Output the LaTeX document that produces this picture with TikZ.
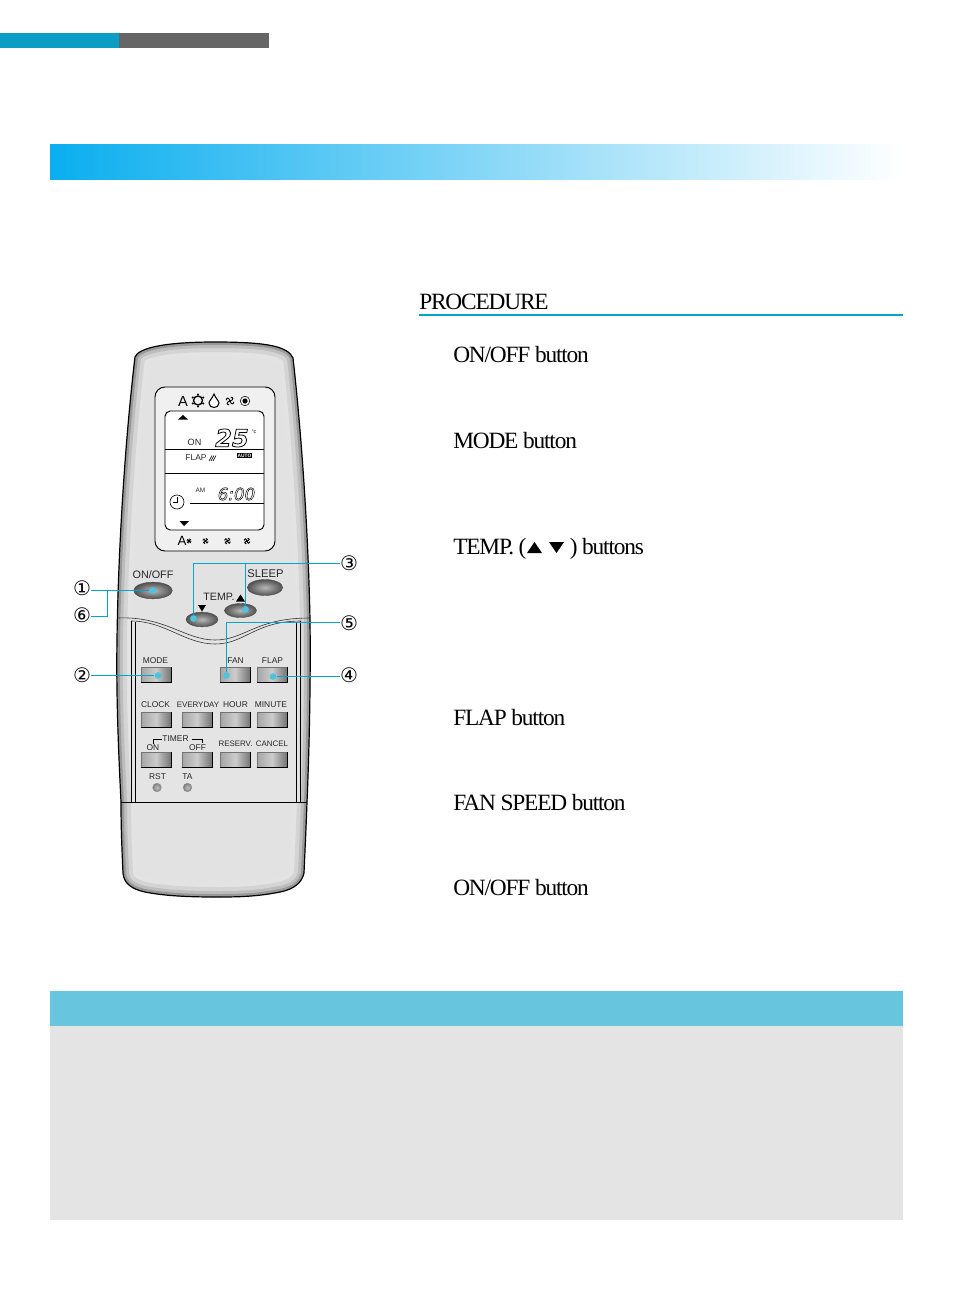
\documentclass[tikz,border=0pt]{standalone}
\usepackage{fontspec}
\setmainfont{Liberation Serif}[LetterSpace=-5]
\setsansfont{Liberation Sans}
\newfontfamily\symf{DejaVu Sans}
\newfontfamily\lcdf{DejaVu Sans}
\usetikzlibrary{shapes.geometric}
\definecolor{teal1}{HTML}{0A9EC4}
\definecolor{lead}{HTML}{00A5CC}
\definecolor{dotc}{HTML}{4CC4E0}
\definecolor{barblue}{HTML}{0AAEEF}
\definecolor{hdr}{HTML}{68C5DE}
\definecolor{panel}{HTML}{E4E4E4}
\definecolor{bodyc}{HTML}{E2E2E2}
\newcommand{\outl}[2]{\special{pdf:code 1 Tr #1 w}#2\special{pdf:code 0 Tr 0.4 w}}
\newcommand{\bodypath}{(135,357) .. controls (138,349) and (160,342) .. (215,342) .. controls (270,342) and (288,347) .. (293,358) .. controls (300,420) and (308,520) .. (310,620) .. controls (311,700) and (308,780) .. (307,802) .. controls (306,830) and (305,850) .. (304,873) .. controls (302,882) and (295,889) .. (280,892) .. controls (255,897) and (235,897) .. (215,897) .. controls (190,897) and (165,896) .. (145,892) .. controls (132,889) and (124,884) .. (123,873) .. controls (122,850) and (121,830) .. (121,802) .. controls (119,760) and (116,700) .. (117,640) .. controls (118,560) and (124,450) .. (135,357) -- cycle}
\newcommand{\rb}[3]{\node[rbtn] (#1) at (#2,#3) {};\draw[line width=.85pt] (#1.south west)--(#1.south east)--(#1.north east);}
\newcommand{\fanicon}[3]{\begin{scope}[shift={(#1,#2)},scale=#3,line width=.7pt,line cap=round]
\draw (-3.5,-1) .. controls (-3.5,-3.5) and (-1,-3.5) .. (0,0);\draw (1,-3.5) .. controls (3.5,-3.5) and (3.5,-1) .. (0,0);\draw (3.5,1) .. controls (3.5,3.5) and (1,3.5) .. (0,0);\draw (-1,3.5) .. controls (-3.5,3.5) and (-3.5,1) .. (0,0);
\end{scope}}
\tikzset{
 ptitle/.style={anchor=base west,inner sep=0,font=\fontsize{17.5}{20}\selectfont},
 lab/.style={inner sep=0,font=\sffamily\fontsize{6.3}{7}\selectfont,text=black!85},
 labs/.style={inner sep=0,font=\sffamily\fontsize{5.95}{7}\selectfont,text=black!85},
 blab/.style={inner sep=0,font=\sffamily\fontsize{8.4}{9}\selectfont,text=black!85},
 rbtn/.style={draw=black!55,line width=.4pt,minimum width=22.5pt,minimum height=11pt,inner sep=0,left color=black!35,right color=black!55,middle color=black!20},
 ebtn/.style={ellipse,draw=black!70,line width=.3pt,inner sep=0,inner color=black!28,outer color=black!68},
 hole/.style={circle,draw=black!45,line width=.3pt,minimum size=6.5pt,inner sep=0,inner color=black!25,outer color=black!50},
 dot/.style={circle,fill=dotc,minimum size=5pt,inner sep=0},
 num/.style={inner sep=0,font=\symf\fontsize{15}{16}\selectfont},
 lead/.style={draw=lead,line width=.6pt},
 lcdline/.style={line width=.55pt},
}
\begin{document}
\begin{tikzpicture}[x=.75pt,y=-.75pt]
\useasboundingbox (0,0) rectangle (954,1305);
% page furniture
\fill[teal1] (0,33) rectangle (119,48);
\fill[black!60] (119,33) rectangle (269,48);
\shade[left color=barblue,right color=white] (50,144.4) rectangle (903,180);
\fill[hdr] (50,991) rectangle (903,1026);
\fill[panel] (50,1026) rectangle (903,1220);
% procedure
\node[ptitle] (proc) at (419,309.7) {PROCEDURE};
\draw[lead,line width=1.1pt] (419,315) -- (903,315);
\node[ptitle] (t1) at (453,362.7) {ON/OFF button};
\node[ptitle] (t2) at (453,448.7) {MODE button};
\node[ptitle] (t3) at (453,554.7) {TEMP. (};
\fill (527,553) -- (534.5,542) -- (542,553) -- cycle;
\fill (549,542) -- (564,542) -- (556.5,553) -- cycle;
\node[ptitle] (t3b) at (569.5,554.7) {) buttons};
\node[ptitle] (t4) at (453,725.7) {FLAP button};
\node[ptitle] (t5) at (453,810.7) {FAN SPEED button};
\node[ptitle] (t6) at (453,895.7) {ON/OFF button};
% remote body
\fill[bodyc] \bodypath;
\begin{scope}
\clip \bodypath;
\draw[black!11,line width=22pt] \bodypath;
\draw[black!17,line width=15pt] \bodypath;
\draw[black!26,line width=9pt] \bodypath;
\draw[black!40,line width=4.5pt] \bodypath;
\fill[panel] (131,619) .. controls (165,622) and (185,640) .. (215,641) .. controls (245,642) and (255,622) .. (296,621) -- (300,802) -- (131,802) -- cycle;
\end{scope}
\draw[line width=.9pt] \bodypath;
% wave and panel
\draw[line width=.45pt,black!80] (118,618) .. controls (165,616) and (185,640) .. (215,640) .. controls (245,640) and (255,618) .. (310,618);
\draw[line width=.45pt,black!80] (131,621) .. controls (165,621) and (185,644) .. (215,644) .. controls (245,644) and (255,621) .. (301,621);
\draw[line width=.5pt] (131.5,621) -- (131.5,802) (135,622) -- (135,802) (296,622) -- (296,802) (300.5,621) -- (300.5,802);
\draw[line width=.7pt] (121,802) -- (307,802);
% LCD
\draw[line width=.7pt,fill=white!50!bodyc,rounded corners=7.5pt] (155,387) rectangle (275,551);
\draw[line width=.7pt,fill=white,rounded corners=4pt] (165,411) rectangle (264,530);
\draw[lcdline] (165,449.5) -- (264,449.5) (165,473.5) -- (264,473.5) (190,503) -- (264,503);
\node[inner sep=0,font=\sffamily\fontsize{11}{12}\selectfont] (a1) at (183,401) {A};
\begin{scope}[shift={(198,400.5)}]
\draw[line width=1pt] (0,0) circle[radius=4.5];
\foreach \a in {30,90,...,330}{\fill (\a:6) circle[radius=1.1];}
\end{scope}
\draw[line width=.8pt,fill=white] (214,394) .. controls (216,399) and (219,401) .. (219,403) .. controls (219,409) and (209,409) .. (209,403) .. controls (209,401) and (212,399) .. (214,394) -- cycle;
\fanicon{230}{401}{1.05}
\draw[line width=.4pt] (245,401) circle[radius=4.8];
\fill (245,401) circle[radius=2.6];
\fill (178,419.5) -- (188,419.5) -- (183,415) -- cycle;
\fill (179.5,521) -- (189,521) -- (184,526) -- cycle;
\node[inner sep=0,font=\sffamily\fontsize{6.8}{7}\selectfont,text=black!85] (on) at (194.5,442.5) {ON};
\node[inner sep=0,font=\lcdf\bfseries\itshape\fontsize{18}{22}\selectfont] (t25) at (232,438) {\outl{.6}{25}};
\node[inner sep=0,font=\sffamily\fontsize{4}{4}\selectfont] (deg) at (254,431.5) {°c};
\node[lab] (flap0) at (196,457.5) {FLAP};
\draw[line width=.45pt] (209,461) -- (212,455.5) (211,461) -- (214,455.5) (213,461) -- (216,455.5);
\node[fill=black,text=white,inner sep=.4pt,font=\sffamily\bfseries\fontsize{3.6}{4}\selectfont] (auto) at (244.5,455.5) {AUTO};
\node[inner sep=0,font=\sffamily\fontsize{4.8}{5}\selectfont,text=black!85] (am) at (200.5,490.5) {AM};
\node[inner sep=0,font=\lcdf\itshape\fontsize{12.5}{14}\selectfont] (t600) at (236.5,494) {\outl{.35}{6:00}};
\draw[line width=.5pt] (177,502) circle[radius=7];
\draw[line width=.35pt] (177,497) -- (177,502) -- (173,502);
\node[inner sep=0,font=\sffamily\fontsize{10}{11}\selectfont] (a2) at (182,541) {A};
\fanicon{189}{541}{.55}
\fanicon{205.5}{541}{.7}
\fanicon{227.5}{541}{.8}
\fanicon{247}{541}{.8}
% upper buttons
\node[blab,font=\sffamily\fontsize{8.1}{9}\selectfont] (lonoff) at (153,575) {ON/OFF};
\node[ebtn,minimum width=29pt,minimum height=12.5pt] (onoff) at (153,590.5) {};
\node[blab] (lsleep) at (265.5,573.5) {SLEEP};
\node[ebtn,minimum width=26.5pt,minimum height=12pt] (sleep) at (265,587.5) {};
\node[blab,font=\sffamily\fontsize{8}{9}\selectfont] (ltemp) at (219,597) {TEMP.};
\fill (236,601.5) -- (240.5,594.5) -- (245,601.5) -- cycle;
\fill (198,605) -- (206,605) -- (202,611.5) -- cycle;
\node[ebtn,minimum width=24pt,minimum height=10.5pt] (tup) at (240.5,610.5) {};
\node[ebtn,minimum width=24pt,minimum height=11pt] (tdown) at (202,619.5) {};
% rectangular buttons
\node[lab] at (155.5,660.5) {MODE};
\node[lab] at (235.5,660.5) {FAN};
\node[lab] at (272.5,660.5) {FLAP};
\rb{mode}{156}{674.5}
\rb{fan}{235}{674.5}
\rb{flap}{272}{674.5}
\node[lab] at (155.5,705) {CLOCK};
\node[labs] at (198,705) {EVERYDAY};
\node[lab] at (235.5,705) {HOUR};
\node[lab] at (271,705) {MINUTE};
\rb{clock}{156}{720}
\rb{everyday}{197}{720}
\rb{hour}{235.5}{720}
\rb{minute}{272}{720}
\node[lab] (ton) at (153,748) {ON};
\node[lab] (toff) at (197.5,748) {OFF};
\node[lab] (tmr) at (175.5,739) {TIMER};
\draw[line width=.45pt] (ton.north) ++(0,-1) |- (tmr.west);
\draw[line width=.45pt] (tmr.east) ++(3,0) -- ++(10,0) -- ++(0,4);
\node[labs] at (235.5,744) {RESERV.};
\node[labs] at (272,744) {CANCEL};
\rb{ton2}{156}{760}
\rb{toff2}{197}{760}
\rb{reserv}{235.5}{760}
\rb{cancel}{272}{760}
\node[lab] at (157.5,777) {RST};
\node[lab] at (187.5,777) {TA};
\node[hole] (rst) at (157,787.5) {};
\node[hole] (ta) at (187.5,787.5) {};
% callouts
\node[num] (n1) at (82,588) {①};
\node[num] (n6) at (82,615) {⑥};
\node[num] (n2) at (82,675) {②};
\node[num] (n3) at (349,563) {③};
\node[num] (n5) at (349,623) {⑤};
\node[num] (n4) at (349,675) {④};
\node[dot] (d1) at (153,590.5) {};
\node[dot] (d2) at (158,675.5) {};
\node[dot] (d3a) at (193.5,618.5) {};
\node[dot] (d3b) at (245.5,609.5) {};
\node[dot] (d4) at (273,676.5) {};
\node[dot] (d5) at (226.5,675.5) {};
\coordinate (j6) at (107.5,590.5);
\coordinate (j3) at (245.5,563.5);
\draw[lead] (n1.east |- d1) -- (d1);
\draw[lead] (n6.east |- 0,616.5) -| (j6);
\draw[lead] (n2.east |- d2) -- (d2);
\draw[lead] (n3.west |- j3) -- (193.5,563.5) -- (d3a);
\draw[lead] (j3) -- (d3b);
\draw[lead] (n4.west |- d4) -- (d4);
\draw[lead] (n5.west |- 0,622.5) -- (d5.center |- 0,622.5) -- (d5);
\end{tikzpicture}
\end{document}
